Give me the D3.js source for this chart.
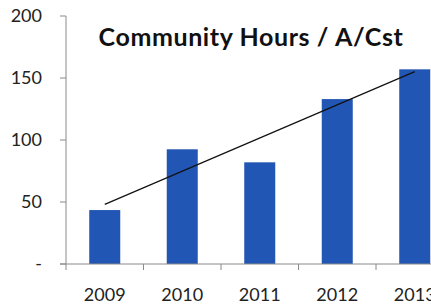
<!DOCTYPE html>
<html lang="en">
<head>
<meta charset="UTF-8">
<title>Community Hours</title>
<script src="https://d3js.org/d3.v7.min.js"></script>
<style>
  body { margin: 0; background: #fff; }
  text { font-family: Lato, "Open Sans", sans-serif; }
</style>
</head>
<body>
<script>
    const years = ["2009", "2010", "2011", "2012", "2013"];
    const hours = [43.5, 92.5, 82, 133, 157];
    const yTicks = [0, 50, 100, 150, 200];

    const width = 431, height = 305;
    const x0 = 66, bandW = 77.5;

    const svg = d3.select("body").append("svg")
        .attr("width", width)
        .attr("height", height);

    const x = d3.scaleBand()
        .domain(years)
        .range([x0, x0 + bandW * years.length])
        .paddingInner(0.6)
        .paddingOuter(0.3);

    const y = d3.scaleLinear()
        .domain([0, 200])
        .range([264, 16]);

    // bars
    svg.selectAll("rect.bar")
        .data(hours)
        .enter()
        .append("rect")
        .attr("class", "bar")
        .attr("x", (d, i) => x(years[i]))
        .attr("y", d => y(d))
        .attr("width", x.bandwidth())
        .attr("height", d => y(0) - y(d))
        .attr("fill", "#2256b4");

    // y axis
    svg.append("line")
        .attr("x1", x0).attr("x2", x0)
        .attr("y1", y(200)).attr("y2", y(0))
        .attr("stroke", "#8a8a8a");

    svg.selectAll("line.ytick")
        .data(yTicks)
        .enter()
        .append("line")
        .attr("class", "ytick")
        .attr("x1", x0 - 6).attr("x2", x0)
        .attr("y1", d => y(d)).attr("y2", d => y(d))
        .attr("stroke", "#8a8a8a");

    svg.selectAll("text.ylab")
        .data(yTicks)
        .enter()
        .append("text")
        .attr("class", "ylab")
        .attr("x", 42)
        .attr("y", d => y(d))
        .attr("dy", "0.35em")
        .attr("text-anchor", "end")
        .attr("font-size", 18)
        .attr("fill", "#222")
        .text(d => d === 0 ? "-" : d);

    // x axis
    svg.append("line")
        .attr("x1", x0 - 6).attr("x2", width)
        .attr("y1", y(0)).attr("y2", y(0))
        .attr("stroke", "#8a8a8a");

    const bounds = d3.range(years.length + 1).map(i => x0 + i * bandW);
    svg.selectAll("line.xtick")
        .data(bounds)
        .enter()
        .append("line")
        .attr("class", "xtick")
        .attr("x1", d => d).attr("x2", d => d)
        .attr("y1", y(0)).attr("y2", y(0) + 6)
        .attr("stroke", "#8a8a8a");

    svg.selectAll("text.xlab")
        .data(years)
        .enter()
        .append("text")
        .attr("class", "xlab")
        .attr("x", d => x(d) + x.bandwidth() / 2)
        .attr("y", 295)
        .attr("dy", "0.35em")
        .attr("text-anchor", "middle")
        .attr("font-size", 18)
        .attr("fill", "#222")
        .text(d => d);

    // linear trend line
    const n = hours.length;
    const mx = d3.mean(d3.range(n));
    const my = d3.mean(hours);
    const slope = d3.sum(hours, (d, i) => (i - mx) * (d - my)) / d3.sum(d3.range(n), i => (i - mx) * (i - mx));
    const icpt = my - slope * mx;
    const cx = i => x(years[i]) + x.bandwidth() / 2;

    svg.append("line")
        .attr("x1", cx(0)).attr("y1", y(icpt))
        .attr("x2", cx(n - 1)).attr("y2", y(icpt + slope * (n - 1)))
        .attr("stroke", "#111")
        .attr("stroke-width", 1.2);

    // title
    svg.append("text")
        .attr("x", 251)
        .attr("y", 37)
        .attr("dy", "0.35em")
        .attr("text-anchor", "middle")
        .attr("font-size", 25)
        .attr("letter-spacing", 0.6)
        .attr("font-weight", "bold")
        .attr("fill", "#111")
        .text("Community Hours / A/Cst");
</script>
</body>
</html>
